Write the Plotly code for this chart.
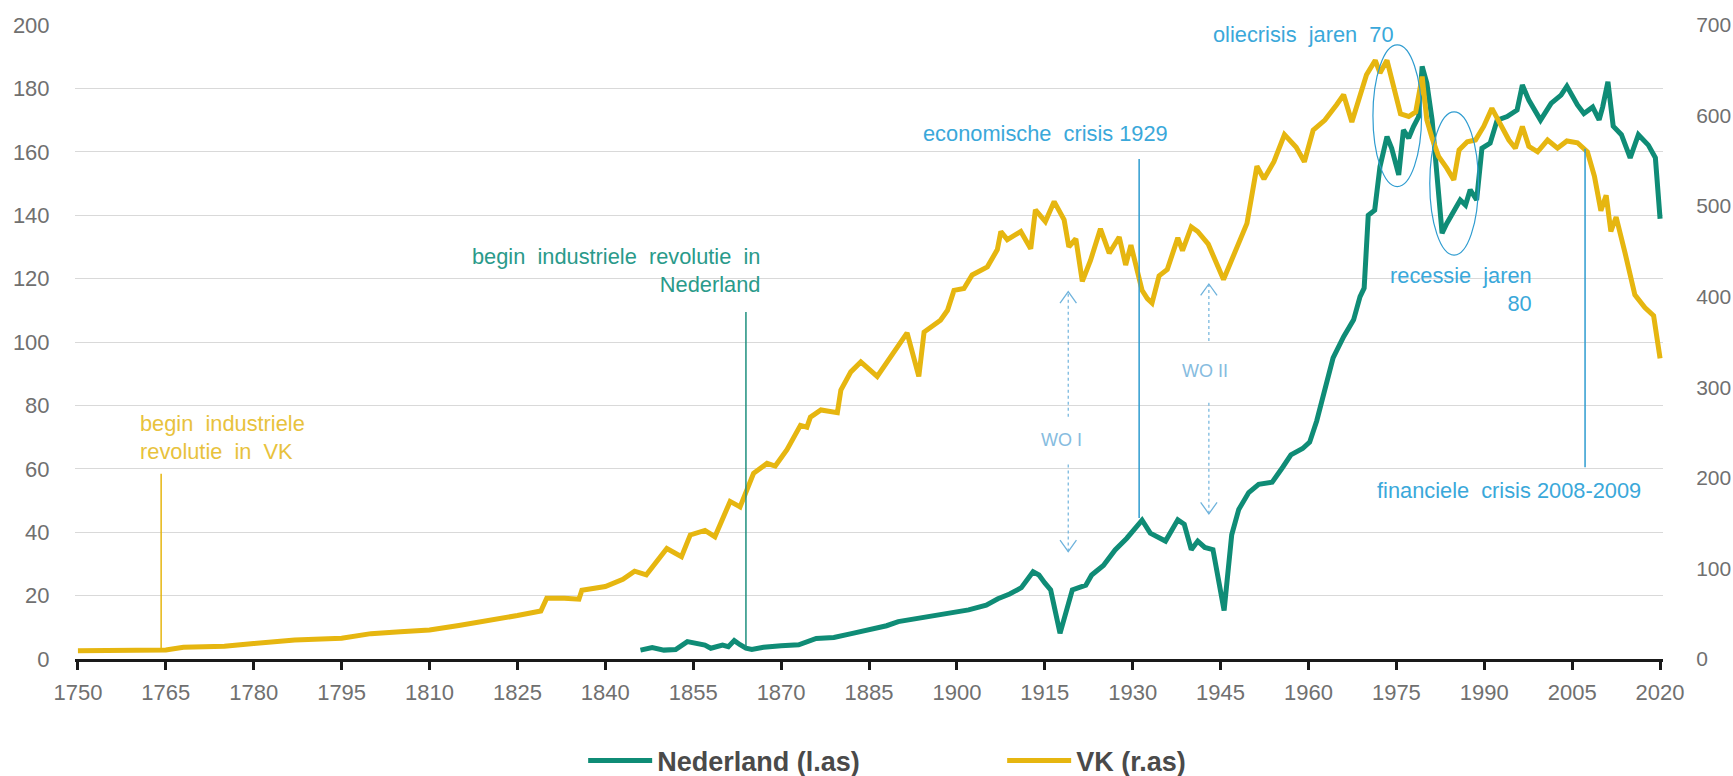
import plotly.graph_objects as go

# ---------------- data ----------------
nl_years = [1846, 1848, 1850, 1852, 1854, 1855, 1857, 1858, 1860, 1861, 1862, 1863, 1864, 1865,
            1867, 1870, 1873, 1876, 1879, 1882, 1885, 1888, 1890, 1893, 1896, 1899, 1902, 1905,
            1907, 1909, 1911, 1913, 1914, 1915, 1916, 1917.6, 1918.8, 1919.7, 1922, 1923, 1925,
            1927, 1929, 1930, 1931.6, 1933, 1935.6, 1937.7, 1938.8, 1940, 1941.1, 1942.3, 1943.7,
            1945.6, 1946.9, 1948.1, 1949.8, 1951.5, 1953.8, 1955.6, 1957, 1959, 1960.2, 1961.4,
            1962.8, 1964.2, 1966, 1967.7, 1968.8, 1969.5, 1970.2, 1971.3, 1972.2, 1973.4, 1974.2,
            1975.4, 1976.2, 1977.1, 1977.9, 1978.8, 1979.4, 1980.2, 1981.1, 1981.9, 1982.8, 1983.6,
            1984.8, 1985.9, 1986.8, 1987.6, 1988.7, 1989.6, 1991, 1992.2, 1993.9, 1995.6, 1996.5,
            1997.6, 1999.6, 2001.4, 2003.1, 2004.1, 2005.9, 2007, 2008.5, 2009.6, 2010.2, 2011.1,
            2012, 2013.4, 2014.9, 2016.3, 2018, 2019.2, 2020]
nl_values = [2.8, 3.6, 2.8, 3.0, 5.5, 5.0, 4.4, 3.4, 4.4, 3.9, 5.8, 4.5, 3.4, 3.0,
             3.7, 4.2, 4.5, 6.5, 6.8, 8.0, 9.2, 10.5, 11.8, 12.8, 13.4, 14.5, 15.5, 17.0,
             19.0, 20.5, 22.5, 27.5, 26.5, 24.0, 21.8, 8.1, 16.5, 21.8, 23.3, 26.5, 29.5,
             34.4, 38.1, 40.2, 43.8, 39.7, 37.2, 43.9, 42.5, 34.5, 37.2, 35.2, 34.5,
             15.3, 39.2, 47.2, 52.5, 55.1, 55.8, 60.5, 64.4, 66.4, 68.4, 75.1,
             85.7, 95.0, 101.7, 107.0, 114.3, 117.0, 140.0, 141.6, 155.3, 164.8, 161.1,
             152.7, 166.9, 164.3, 167.9, 171.1, 186.9, 181.6, 170.0, 154.3, 134.3, 137.4,
             141.6, 144.8, 143.2, 148.0, 144.8, 161.1, 162.7, 170.0, 171.1, 173.2, 181.1,
             176.3, 170.0, 175.3, 177.9, 180.7, 174.8, 172.1, 174.1, 170.1, 174.1, 182.1,
             168.1, 165.4, 158.1, 165.4, 162.1, 158.1, 138.9]

vk_years = [1750, 1765, 1768, 1775, 1780, 1787, 1795, 1797, 1800, 1805, 1810, 1815, 1820, 1825,
            1829, 1830, 1833, 1835.5, 1836, 1840, 1843, 1845, 1847, 1850.5, 1853, 1854.5, 1857,
            1858.7, 1861.3, 1863, 1865.3, 1867.6, 1869, 1871, 1873.3, 1874.4, 1875, 1876.8,
            1879.6, 1880.2, 1881.9, 1883.6, 1886.4, 1889, 1891.5, 1893.5, 1894.4, 1897.2, 1898.4,
            1899.5, 1901.2, 1902.6, 1905.2, 1906.9, 1907.5, 1908.6, 1910.9, 1912.6, 1913.4,
            1915.1, 1916.6, 1918.3, 1919.1, 1920.3, 1921.4, 1922.8, 1924.5, 1926, 1927.7, 1928.8,
            1929.7, 1931.6, 1932.5, 1933.3, 1934.5, 1935.9, 1937.7, 1938.5, 1940, 1941.1, 1942.9,
            1945.5, 1947.5, 1949.5, 1951.2, 1952.4, 1954.1, 1955.9, 1957.9, 1959.3, 1960.8,
            1962.8, 1964.8, 1966, 1967.4, 1968.8, 1969.9, 1971.4, 1972.2, 1973.4, 1974.5, 1975.7,
            1977.1, 1978.3, 1979.4, 1980.2, 1981.1, 1982.2, 1983.6, 1984.8, 1985.7, 1987.1,
            1988.5, 1989.9, 1991.3, 1992.7, 1994.2, 1995.3, 1996.5, 1997.6, 1999.1, 2000.8,
            2002.5, 2004.1, 2005.9, 2007.6, 2008.8, 2009.9, 2010.8, 2011.6, 2012.5, 2014, 2015.7,
            2017.4, 2018.9, 2020]
vk_values = [9, 10, 13, 14, 17, 21, 23, 25, 28, 30, 32, 37, 42, 48,
             53, 67, 67, 66, 76, 80, 88, 97, 93, 122, 113, 137, 142,
             135, 174, 168, 205, 216, 213, 231, 258, 256, 267, 275,
             272, 297, 317, 328, 312, 337, 360, 312, 361, 374, 385,
             407, 409, 424, 433, 452, 472, 463, 472, 453, 496,
             483, 505, 485, 455, 464, 417, 440, 475, 448, 466, 435,
             457, 407, 398, 393, 423, 430, 465, 451, 477, 472, 458,
             419, 449, 481, 544, 530, 549, 579, 565, 549, 584,
             595, 612, 623, 593, 621, 645, 661, 647, 661, 632, 602,
             599, 604, 643, 595, 575, 555, 542, 529, 562, 571,
             573, 588, 608, 592, 573, 564, 588, 566, 560, 573,
             564, 572, 570, 560, 533, 495, 512, 472, 488, 449, 402,
             388, 379, 332]

x_ticks = list(range(1750, 2021, 15))
y_left_ticks = list(range(0, 201, 20))
y_right_ticks = list(range(0, 701, 100))

series_names = ["Nederland (l.as)", "VK (r.as)"]

# ---------------- style ----------------
TEAL = "#0F8C76"
GOLD = "#E6B610"
BLUE = "#2E9CD0"
FONT = "Liberation Sans, Arial, sans-serif"
TICKCOL = "#707070"
ANN = 21.8
CLEAR = "rgba(0,0,0,0)"

fig = go.Figure()
fig.add_trace(go.Scatter(x=nl_years, y=nl_values, mode="lines", name=series_names[0],
                         line=dict(color=TEAL, width=5), yaxis="y"))
fig.add_trace(go.Scatter(x=vk_years, y=vk_values, mode="lines", name=series_names[1],
                         line=dict(color=GOLD, width=5), yaxis="y2"))

shapes = []
annotations = []

def vline(x, y0, y1, color, width=1.5, dash="solid"):
    shapes.append(dict(type="line", xref="x", yref="y", x0=x, x1=x, y0=y0, y1=y1,
                       line=dict(color=color, width=width, dash=dash), layer="above"))

def note(x, y, text, color, xanchor="center", align="center", size=ANN):
    annotations.append(dict(x=x, y=y, xref="x", yref="y", text=text, showarrow=False,
                            xanchor=xanchor, yanchor="middle", align=align,
                            font=dict(family=FONT, size=size, color=color)))

# VK industrial revolution
vline(1764.2, 2.9, 58.4, GOLD)
note(1760.3, 69.8, "begin  industriele<br>revolutie  in  VK", "#E8C23C", xanchor="left", align="left")
# NL industrial revolution
vline(1864, 3.8, 109.5, "#1E8F7E")
note(1866.7, 122.7, "begin  industriele  revolutie  in<br>Nederland", "#2A9A8A", xanchor="right", align="right")
# crisis 1929
vline(1931.1, 44.5, 157.7, BLUE)
note(1915.2, 165.9, "economische  crisis 1929", "#3AA8DA")
# oil crisis
note(1959.1, 196.9, "oliecrisis  jaren  70", "#3AA8DA")
shapes.append(dict(type="circle", xref="x", yref="y", x0=1971.0, x1=1979.3, y0=149, y1=193.7,
                   line=dict(color=BLUE, width=1.2), layer="above"))
# recession 80s
shapes.append(dict(type="circle", xref="x", yref="y", x0=1980.7, x1=1989.0, y0=127.4, y1=172.6,
                   line=dict(color=BLUE, width=1.2), layer="above"))
note(1998.4, 116.7, "recessie  jaren<br>80", "#3AA8DA", xanchor="right", align="right")
# financial crisis
vline(2007.2, 60.5, 161, BLUE)
note(1994.2, 53.0, "financiele  crisis 2008-2009", "#3AA8DA")

# WO arrows
WOCOL = "#6FB3DC"
def wo_arrow(x, ytop, ybot, gtop, gbot, label, xlab, ylab):
    vline(x, gtop, ytop, WOCOL, 1.2, "dot")
    vline(x, ybot, gbot, WOCOL, 1.2, "dot")
    hw, hh = 1.4, 3.6
    shapes.append(dict(type="path", xref="x", yref="y",
                       path=f"M {x-hw},{ytop-hh} L {x},{ytop} L {x+hw},{ytop-hh}",
                       line=dict(color=WOCOL, width=1.3), layer="above"))
    shapes.append(dict(type="path", xref="x", yref="y",
                       path=f"M {x-hw},{ybot+hh} L {x},{ybot} L {x+hw},{ybot+hh}",
                       line=dict(color=WOCOL, width=1.3), layer="above"))
    note(xlab, ylab, label, "#86BCE0", size=18)

wo_arrow(1919.0, 115.9, 33.9, 76.4, 61.7, "WO I", 1917.9, 69.2)
wo_arrow(1943.0, 118.3, 45.8, 100.3, 81.7, "WO II", 1942.4, 91)

fig.update_layout(
    width=1733, height=776,
    margin=dict(l=75, r=70, t=25, b=117, autoexpand=False),
    plot_bgcolor="white", paper_bgcolor="white",
    showlegend=True,
    legend=dict(orientation="h", x=0.320, xanchor="left", y=-0.161, yanchor="middle",
                font=dict(family=FONT, size=27, color="#4A4A4A", weight="bold"),
                itemwidth=64, entrywidth=340, tracegroupgap=0),
    xaxis=dict(range=[1749.5, 2020.5], tickvals=x_ticks, ticktext=[str(t) for t in x_ticks],
               showgrid=False, zeroline=False, showline=True, linecolor="#1a1a1a", linewidth=3,
               ticks="outside", ticklen=8, tickwidth=3, tickcolor="#1a1a1a", automargin=False,
               tickfont=dict(family=FONT, size=22, color=TICKCOL), ticklabelstandoff=4),
    yaxis=dict(range=[0, 200], tickvals=y_left_ticks, showgrid=True, gridcolor="#d9d9d9",
               gridwidth=1, zeroline=False, showline=False, automargin=False,
               ticks="outside", ticklen=20, tickcolor=CLEAR,
               tickfont=dict(family=FONT, size=22, color=TICKCOL)),
    yaxis2=dict(range=[0, 700], tickvals=y_right_ticks, overlaying="y", side="right",
                showgrid=False, zeroline=False, showline=False, automargin=False,
                ticks="outside", ticklen=28, tickcolor=CLEAR,
                tickfont=dict(family=FONT, size=21, color=TICKCOL)),
    shapes=shapes, annotations=annotations,
)

fig.write_html("out.html", config={"displayModeBar": False},
               post_script="document.body.style.margin='0px';")
